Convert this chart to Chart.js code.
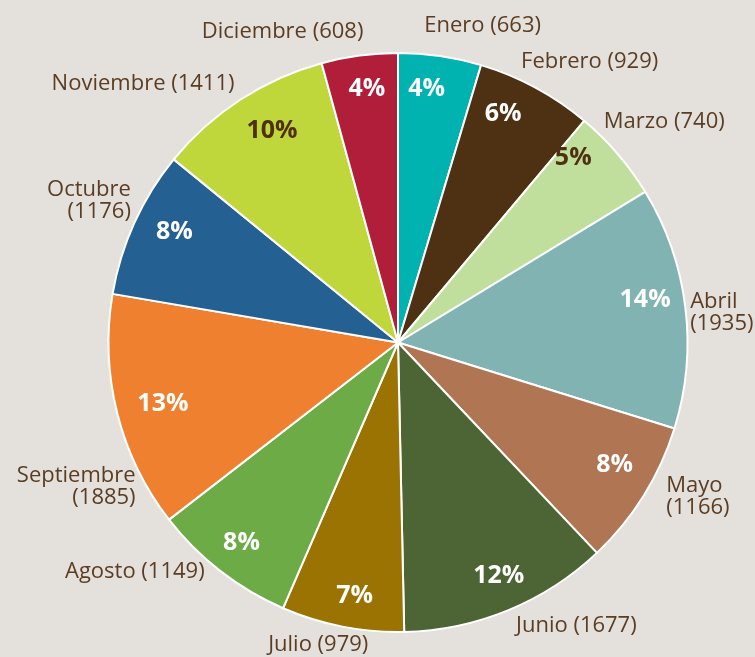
<!DOCTYPE html>
<html>
<head>
<meta charset="utf-8">
<script src="https://cdn.jsdelivr.net/npm/chart.js@4"></script>
<style>
  html, body { margin: 0; padding: 0; background: #e4e1dc; }
  #wrap { width: 755px; height: 657px; }
</style>
</head>
<body>
<div id="wrap"><canvas id="pie"></canvas></div>
<script>
// data
const months = ['Enero', 'Febrero', 'Marzo', 'Abril', 'Mayo', 'Junio', 'Julio', 'Agosto', 'Septiembre', 'Octubre', 'Noviembre', 'Diciembre'];
const counts = [663, 929, 740, 1935, 1166, 1677, 979, 1149, 1885, 1176, 1411, 608];
const pctText = ['4%', '6%', '5%', '14%', '8%', '12%', '7%', '8%', '13%', '8%', '10%', '4%'];
const colors = ['#00b2b0', '#4e3012', '#c0df9c', '#82b3b3', '#b07553', '#4d6535', '#9b7303', '#6dab47', '#ef8030', '#256093', '#bfd73a', '#b01e3a'];

// labels that wrap onto two lines
const twoLine = { 'Abril': 1, 'Mayo': 1, 'Septiembre': 1, 'Octubre': 1 };
// hand nudges, like the original layout
const outNudge = [[-18,-14],[-22,-12],[-26,-22],[-11,8],[9,-7],[2,1],[29,2],[-6,-12],[34,70],[11,-15],[3,-3],[6,-8]];
const inNudge = [[-4,-30],[-2,-30],[4,-37],[23,-15],[25,3],[15,24],[0,32],[-18,22],[-16,7],[-18,-17],[-3,-22],[-1,-30]];
const darkPct = { 2: 1, 10: 1 };

const labelPlugin = {
  id: 'sliceLabels',
  afterDatasetsDraw(chart) {
    const c = chart.ctx;
    const meta = chart.getDatasetMeta(0);
    meta.data.forEach((arc, i) => {
      const p = arc.getProps(['x', 'y', 'startAngle', 'endAngle', 'outerRadius']);
      const mid = (p.startAngle + p.endAngle) / 2;
      const cos = Math.cos(mid), sin = Math.sin(mid);

      // percent inside
      const ri = p.outerRadius * 0.78;
      c.save();
      c.font = 'bold 25px "Open Sans", sans-serif';
      c.fillStyle = darkPct[i] ? '#4e3012' : '#ffffff';
      c.textAlign = 'center';
      c.textBaseline = 'middle';
      c.fillText(pctText[i], p.x + ri * cos + inNudge[i][0], p.y + ri * sin + inNudge[i][1]);

      // month + count outside
      const ro = p.outerRadius + 16;
      const ax = p.x + ro * cos + outNudge[i][0];
      const ay = p.y + ro * sin + outNudge[i][1];
      c.font = '22px "Open Sans", sans-serif';
      c.fillStyle = '#5a3d22';
      c.textAlign = cos >= 0 ? 'left' : 'right';
      const name = months[i], val = '(' + counts[i] + ')';
      if (twoLine[name]) {
        c.fillText(name, ax, ay - 11);
        c.fillText(val, ax, ay + 11);
      } else {
        c.fillText(name + ' ' + val, ax, ay);
      }
      c.restore();
    });
  }
};

new Chart(document.getElementById('pie'), {
  type: 'pie',
  data: {
    labels: months,
    datasets: [{
      data: counts,
      backgroundColor: colors,
      borderColor: '#ffffff',
      borderWidth: 2
    }]
  },
  options: {
    responsive: true,
    maintainAspectRatio: false,
    animation: false,
    events: [],
    layout: { padding: { top: 52, bottom: 24, left: 100, right: 59 } },
    plugins: {
      legend: { display: false },
      tooltip: { enabled: false }
    }
  },
  plugins: [labelPlugin]
});
</script>
</body>
</html>
